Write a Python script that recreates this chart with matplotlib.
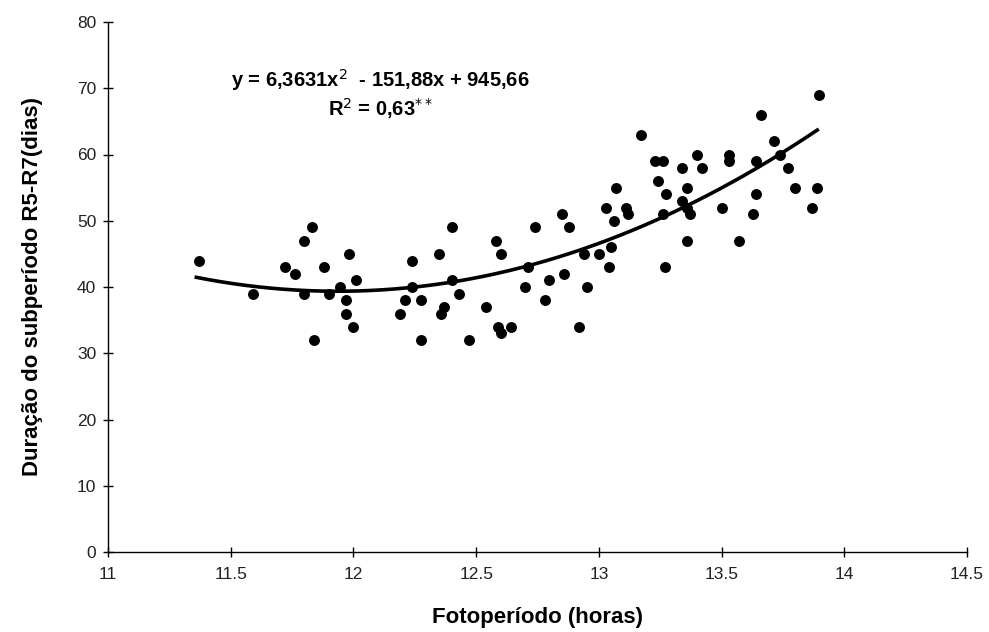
import numpy as np
import matplotlib
matplotlib.use("Agg")
import matplotlib.pyplot as plt

plt.rcParams['font.family'] = ['Liberation Sans', 'DejaVu Sans']

# Observed data (photoperiod in hours, R5-R7 duration in days)
fotoperiodo = [11.37, 11.59, 11.72, 11.76, 11.80, 11.83, 11.80, 11.84, 11.88, 11.90,
               11.945, 11.97, 11.97, 11.98, 12.00, 12.01, 12.19, 12.21, 12.24, 12.24,
               12.275, 12.275, 12.35, 12.356, 12.37, 12.40, 12.40, 12.43, 12.47, 12.54,
               12.58, 12.60, 12.59, 12.64, 12.60, 12.70, 12.71, 12.74, 12.78, 12.795,
               12.85, 12.86, 12.88, 12.92, 12.94, 12.95, 13.00, 13.04, 13.03, 13.05,
               13.06, 13.07, 13.11, 13.12, 13.17, 13.23, 13.26, 13.24, 13.27, 13.26,
               13.275, 13.34, 13.34, 13.36, 13.36, 13.37, 13.36, 13.40, 13.42, 13.50,
               13.53, 13.53, 13.57, 13.63, 13.64, 13.64, 13.66, 13.715, 13.74, 13.77,
               13.80, 13.87, 13.89, 13.895]
duracao = [44, 39, 43, 42, 47, 49, 39, 32, 43, 39,
           40, 38, 36, 45, 34, 41, 36, 38, 44, 40,
           38, 32, 45, 36, 37, 49, 41, 39, 32, 37,
           47, 45, 34, 34, 33, 40, 43, 49, 38, 41,
           51, 42, 49, 34, 45, 40, 45, 43, 52, 46,
           50, 55, 52, 51, 63, 59, 59, 56, 43, 51,
           54, 58, 53, 55, 52, 51, 47, 60, 58, 52,
           60, 59, 47, 51, 54, 59, 66, 62, 60, 58,
           55, 52, 55, 69]

# Quadratic fit coefficients shown on the chart
coef_a, coef_b, coef_c = 6.3631, -151.88, 945.66
fit_range = [11.36, 13.89]

x_ticks = [11, 11.5, 12, 12.5, 13, 13.5, 14, 14.5]
x_ticklabels = ['11', '11.5', '12', '12.5', '13', '13.5', '14', '14.5']
y_ticks = [0, 10, 20, 30, 40, 50, 60, 70, 80]

fig = plt.figure(figsize=(9.89, 6.32), dpi=100)
ax = fig.add_axes([108/989, 80/632, (967-108)/989, (552-22)/632])

ax.scatter(fotoperiodo, duracao, s=62, color='black', zorder=3, linewidths=0)

xf = np.linspace(fit_range[0], fit_range[1], 200)
yf = coef_a * xf**2 + coef_b * xf + coef_c
ax.plot(xf, yf, color='black', lw=2.6, zorder=4)

ax.set_xlim(11, 14.5)
ax.set_ylim(0, 80)
ax.set_xticks(x_ticks)
ax.set_xticklabels(x_ticklabels)
ax.set_yticks(y_ticks)
for s in ['top', 'right']:
    ax.spines[s].set_visible(False)
for s in ['left', 'bottom']:
    ax.spines[s].set_color('black')
    ax.spines[s].set_linewidth(1.0)
ax.tick_params(direction='inout', length=7, width=1, labelsize=12.5, colors='black',
               labelcolor='#222222')
ax.tick_params(axis='x', pad=7)
ax.tick_params(axis='y', pad=5)

ax.set_xlabel('Fotoperíodo (horas)', fontsize=16, fontweight='bold', labelpad=18)
ax.set_ylabel('Duração do subperíodo R5-R7(dias)', fontsize=16, fontweight='bold', labelpad=24)

ax.text(12.11, 71.2, 'y = 6,3631x$^{2}$  - 151,88x + 945,66', ha='center', va='center',
        fontsize=14.5, fontweight='bold')
ax.text(12.11, 67.0, 'R$^{2}$ = 0,63$^{**}$', ha='center', va='center',
        fontsize=14.5, fontweight='bold')

fig.savefig('out.png', dpi=100)
